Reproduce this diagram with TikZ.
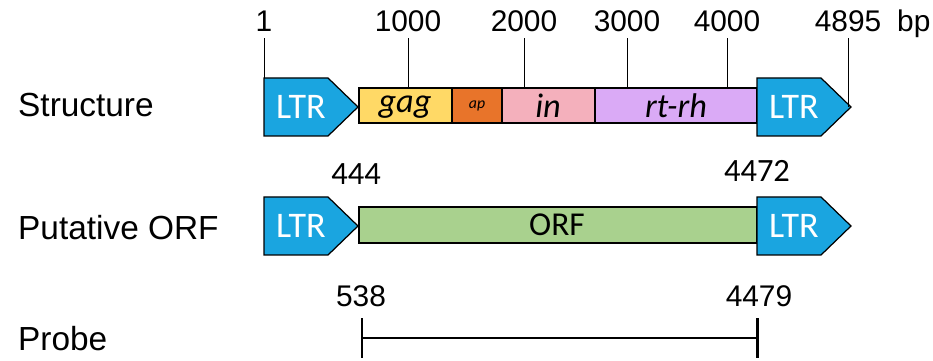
\documentclass[tikz,border=0pt]{standalone}
\usepackage{fontspec}
\setmainfont{Liberation Sans}
\newfontfamily\calfont{Carlito}

\definecolor{ltrblue}{HTML}{1AA5E0}
\definecolor{gagcol}{HTML}{FFD966}
\definecolor{apcol}{HTML}{E8742A}
\definecolor{incol}{HTML}{F4B0BC}
\definecolor{rtcol}{HTML}{DAAAF6}
\definecolor{orfcol}{HTML}{A9D18E}

\begin{document}
\begin{tikzpicture}[x=0.02cm,y=-0.02cm,
    lab/.style={font=\fontsize{19}{22}\selectfont, anchor=base west},
    num/.style={font=\fontsize{17}{20}\selectfont, anchor=base},
    cnum/.style={font=\calfont\fontsize{18.5}{22}\selectfont, anchor=base},
    ltrtxt/.style={font=\calfont\fontsize{20.5}{24}\selectfont, text=white},
    gene/.style={font=\calfont\itshape\fontsize{19.5}{22}\selectfont},
    box/.style={draw, line width=0.7pt},
    probe/.style={line width=1.7pt}]
    \useasboundingbox (0,0) rectangle (933,361);

    % row labels
    \node[lab] (structure) at (12,117) {Structure};
    \node[lab] (putorf) at (12,240) {Putative ORF};
    \node[lab] (probe) at (12,350) {Probe};

    % structure row: coding segments
    \draw[box, fill=gagcol] (359,88) rectangle (452,123);
    \draw[box, fill=apcol] (452,88) rectangle (502,123);
    \draw[box, fill=incol] (502,88) rectangle (595,123);
    \draw[box, fill=rtcol] (595,88) rectangle (757,123);
    \node[gene] (gag) at (405,107) {gag};
    \node[gene, font=\calfont\itshape\fontsize{9}{10}\selectfont] (ap) at (477,106) {ap};
    \node[gene] (in) at (548,106) {in};
    \node[gene] (rtrh) at (676,106) {rt-rh};

    % putative ORF row
    \draw[box, fill=orfcol] (359,207) rectangle (757,243);
    \node[font=\calfont\fontsize{19}{22}\selectfont] (orf) at (557,225) {ORF};

    % long terminal repeats
    \foreach \x/\y/\n in {264/107/ltra, 757/107/ltrb, 264/226/ltrc, 757/226/ltrd} {
      \draw[box, fill=ltrblue] (\x,\y-29) -- ++(64,0) -- ++(30,29) -- ++(-30,29) -- ++(-64,0) -- cycle;
      \node[ltrtxt] (\n) at (\x+37,\y) {LTR};
    }

    % scale above the structure
    \coordinate (ltrtop) at (0,78);
    \coordinate (segtop) at (0,88);
    \coordinate (tip) at (848,107);
    \node[num] (n1) at (264,32) {1};
    \node[num] (n1000) at (408,32) {1000};
    \node[num] (n2000) at (524,32) {2000};
    \node[num] (n3000) at (627,32) {3000};
    \node[num] (n4000) at (727,32) {4000};
    \node[num] (n4895) at (848,32) {4895};
    \node[num, anchor=base west] (bp) at (891,32) {bp};
    \draw (n1.south) -- (n1.south |- ltrtop);
    \foreach \n in {n1000, n2000, n3000, n4000}
      \draw (\n.south) -- (\n.south |- segtop);
    \draw (n4895.south) -- (tip);

    % ORF ends
    \node[cnum] (s444) at (356,185) {444};
    \node[cnum] (s4472) at (757,182) {4472};

    % probe
    \node[num] (p538) at (361,306) {538};
    \node[num] (p4479) at (759,306) {4479};
    \coordinate (pl) at (362,338);
    \coordinate (pr) at (757,338);
    \draw[probe] (pl) -- (pr);
    \draw[probe] (pl) ++(0,-20) -- ++(0,40);
    \draw[probe] (pr) ++(0,-20) -- ++(0,40);
\end{tikzpicture}
\end{document}
